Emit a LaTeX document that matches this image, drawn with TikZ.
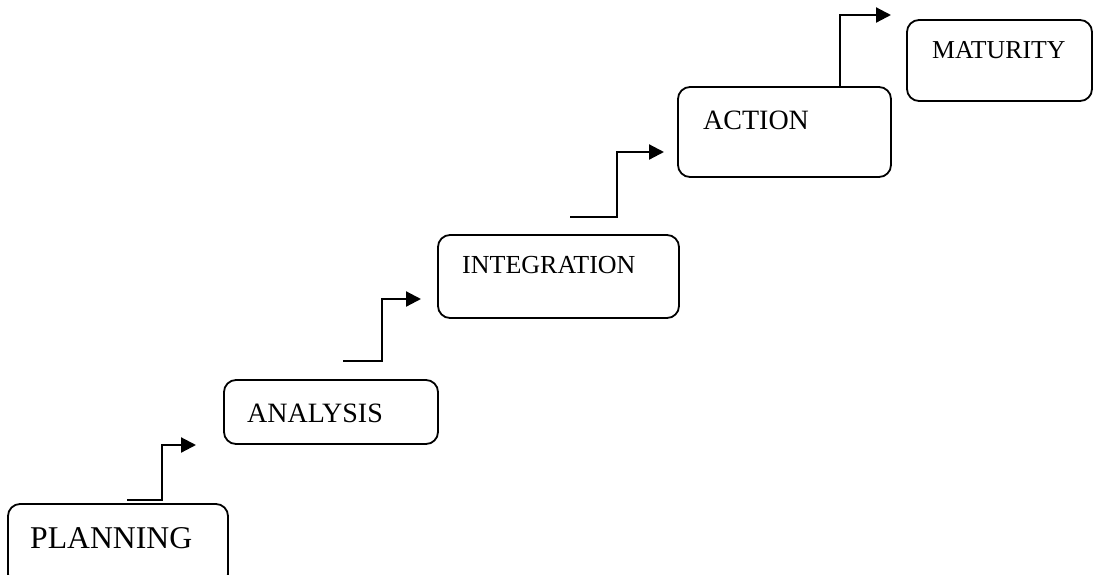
\documentclass[tikz,border=0pt]{standalone}
\usepackage{fontspec}
\setmainfont{Liberation Serif}
\usetikzlibrary{arrows.meta}
\begin{document}
\begin{tikzpicture}[x=1pt,y=-1pt,
  stagebox/.style={draw=black, line width=1.8pt, rounded corners=12pt,
    inner sep=0pt, outer sep=0pt, anchor=north west},
  stagetext/.style={anchor=base west, inner sep=0pt, text=black},
  stepline/.style={draw=black, line width=2.2pt,
    -{Triangle[length=15pt,width=15pt]}}]
  \useasboundingbox (0,0) rectangle (1095,574);

  % stage boxes
  \node[stagebox, minimum width=220pt, minimum height=82pt] (plan) at (8,504) {};
  \node[stagebox, minimum width=214pt, minimum height=64pt] (anal) at (224,380) {};
  \node[stagebox, minimum width=241pt, minimum height=83pt] (integ) at (438,235) {};
  \node[stagebox, minimum width=213pt, minimum height=90pt] (act) at (678,87) {};
  \node[stagebox, minimum width=185pt, minimum height=81pt] (mat) at (907,20) {};

  % stage labels
  \node[stagetext, font=\fontsize{31.7}{36}\selectfont] (tplan) at (30,548) {PLANNING};
  \node[stagetext, font=\fontsize{28}{32}\selectfont] (tanal) at (247,422) {ANALYSIS};
  \node[stagetext, font=\fontsize{26}{30}\selectfont] (tinteg) at (462,273) {INTEGRATION};
  \node[stagetext, font=\fontsize{28}{32}\selectfont] (tact) at (703,129) {ACTION};
  \node[stagetext, font=\fontsize{25.8}{30}\selectfont] (tmat) at (932,58) {MATURITY};

  % step connectors
  \coordinate (s1) at (127,500); \coordinate (e1) at (196,445);
  \coordinate (s2) at (343,361); \coordinate (e2) at (421,299);
  \coordinate (s3) at (570,217); \coordinate (e3) at (664,152);
  \coordinate (s4) at (790,87);  \coordinate (e4) at (891,15);

  \draw[stepline] (s1) -- (162,500) |- (e1);
  \draw[stepline] (s2) -- (382,361) |- (e2);
  \draw[stepline] (s3) -- (617,217) |- (e3);
  \draw[stepline] (s4) -- (840,87) |- (e4);
\end{tikzpicture}
\end{document}
